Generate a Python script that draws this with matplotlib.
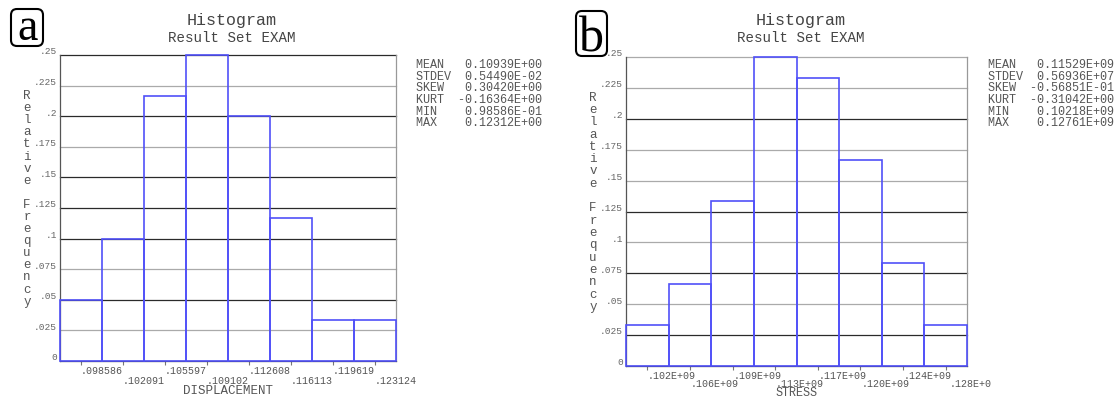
import matplotlib.pyplot as plt
import matplotlib.patches as mpatches
import numpy as np

# Data
freq_disp = [0.05, 0.1, 0.2167, 0.25, 0.2, 0.1167, 0.0333, 0.0333]
freq_stress = [0.0333, 0.0667, 0.1333, 0.25, 0.2333, 0.1667, 0.0833, 0.0333]
ticks_disp = ['.098586', '.102091', '.105597', '.109102', '.112608', '.116113', '.119619', '.123124']
ticks_stress = ['.102E+09', '.106E+09', '.109E+09', '.113E+09', '.117E+09', '.120E+09', '.124E+09', '.128E+0']
ytick_vals = [0, 0.025, 0.05, 0.075, 0.1, 0.125, 0.15, 0.175, 0.2, 0.225, 0.25]
ytick_labels = ['0', '.025', '.05', '.075', '.1', '.125', '.15', '.175', '.2', '.225', '.25']
stat_names = ['MEAN', 'STDEV', 'SKEW', 'KURT', 'MIN', 'MAX']
stats_disp = [' 0.10939E+00', ' 0.54490E-02', ' 0.30420E+00', '-0.16364E+00', ' 0.98586E-01', ' 0.12312E+00']
stats_stress = [' 0.11529E+09', ' 0.56936E+07', '-0.56851E-01', '-0.31042E+00', ' 0.10218E+09', ' 0.12761E+09']

MONO = 'Liberation Mono'
W, H = 1120, 398
fig = plt.figure(figsize=(W / 100, H / 100), dpi=100)

# grid line shades (from .025 up to .25), as they appear in the screenshot
dark, light = '#2a2a2a', '#aaaaaa'
grid_a = [light, dark, light, dark, dark, dark, light, dark, light, dark]
grid_b = [dark, light, dark, light, dark, light, light, dark, light, light]


def px(x0, y0, x1, y1):
    # pixel box (top-left origin) -> figure fraction rect
    return [x0 / W, 1 - y1 / H, (x1 - x0) / W, (y1 - y0) / H]


def draw_panel(rect, freq, ticks, grid_cols, xlabel, xlabel_y, xlabel_size, tick_dx, tick_offs, title_x,
               ylab_x, ylab_top, ylab_step, stats, stats_x, letter, box, letter_pos, letter_size):
    ax = fig.add_axes(px(*rect))
    n = len(freq)
    ax.set_xlim(0, n)
    ax.set_ylim(0, 0.25)
    for v, c in zip(ytick_vals[1:], grid_cols):
        ax.axhline(v, color=c, lw=0.9, zorder=1, clip_on=False)
    ax.bar(np.arange(n), freq, width=1, align='edge', fill=False,
           edgecolor='#5050f8', linewidth=1.2, zorder=3, clip_on=False)

    ax.set_yticks([])
    for v, lbl in zip(ytick_vals, ytick_labels):
        ax.annotate(lbl, xy=(0, v), xycoords=('axes fraction', 'data'),
                    xytext=(-2, -1), textcoords='offset points', ha='right', va='bottom',
                    fontsize=6.8, family=MONO, color='#666666')

    ax.set_xticks(np.arange(n) + 0.5)
    ax.set_xticklabels([])
    ax.tick_params(axis='x', direction='out', length=3, color='#777777', width=0.8)
    for i, lbl in enumerate(ticks):
        off = tick_offs[i % 2]
        ax.annotate(lbl, xy=(i + 1, 0), xycoords=('data', 'axes fraction'),
                    xytext=(tick_dx, -off), textcoords='offset points', ha='center', va='center',
                    fontsize=7.2, family=MONO, color='#555555', annotation_clip=False)

    ax.spines['top'].set_visible(False)
    ax.spines['left'].set_color('#555555')
    ax.spines['right'].set_color('#999999')
    ax.spines['bottom'].set_color('#333333')
    for s in ax.spines.values():
        s.set_linewidth(0.9)

    fig.text(title_x / W, 1 - 20 / H, 'Histogram', ha='center', va='center',
             fontsize=12, family=MONO, color='#444444')
    fig.text(title_x / W, 1 - 38.5 / H, 'Result Set EXAM', ha='center', va='center',
             fontsize=10.2, family=MONO, color='#444444')
    fig.text((rect[0] + rect[2]) / 2 / W, 1 - xlabel_y / H, xlabel, ha='center', va='center',
             fontsize=xlabel_size, family=MONO, color='#555555')

    letters = 'Relative' + ' ' + 'Frequency'
    for k, ch in enumerate(letters):
        fig.text(ylab_x / W, 1 - (ylab_top + k * ylab_step) / H, ch, ha='center', va='center',
                 fontsize=9, family=MONO, color='#555555')

    for k, (nm, val) in enumerate(zip(stat_names, stats)):
        fig.text(stats_x / W, 1 - (65 + k * 11.7) / H, f'{nm:<5s} {val}', ha='left', va='center',
                 fontsize=8.5, family=MONO, color='#555555')

    bx0, by0, bx1, by1 = box
    fig.patches.append(mpatches.FancyBboxPatch(
        (bx0 / 100, (H - by1) / 100), (bx1 - bx0) / 100, (by1 - by0) / 100,
        boxstyle='round,pad=0,rounding_size=0.06', transform=fig.dpi_scale_trans,
        fill=False, edgecolor='black', linewidth=1.5))
    fig.text(letter_pos[0] / W, 1 - letter_pos[1] / H, letter, ha='center', va='baseline',
             fontsize=letter_size, family='Liberation Serif', color='black')


draw_panel((60, 55, 396, 361), freq_disp, ticks_disp, grid_a, 'DISPLACEMENT', 391, 9, 0, (7.2, 14.2), 232,
           27, 96, 12.1, stats_disp, 416.5, 'a', (11, 9, 43, 46), (28, 39.5), 33)
draw_panel((626, 57, 967, 366), freq_stress, ticks_stress, grid_b, 'STRESS', 393.5, 8.5, 2.5, (7.0, 13.3), 801,
           593, 97.7, 12.3, stats_stress, 988, 'b', (576, 11, 607, 56), (591, 51.7), 36)

plt.savefig('out.png', dpi=100)
